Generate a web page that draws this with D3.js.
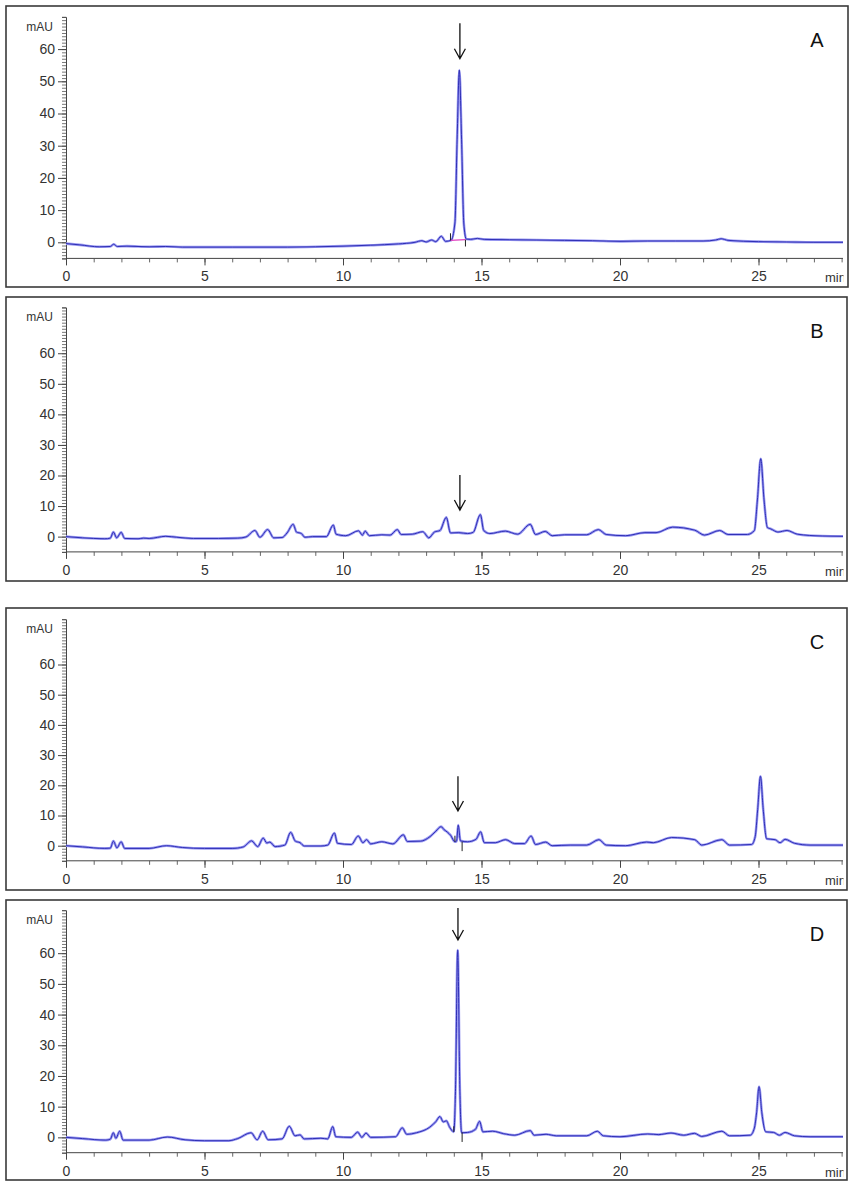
<!DOCTYPE html>
<html>
<head>
<meta charset="utf-8">
<script src="https://cdn.jsdelivr.net/npm/d3@7"></script>
<style>
  html, body { margin: 0; padding: 0; background: #fff; }
  svg { display: block; }
  text { font-family: "Liberation Sans", Arial, sans-serif; }
</style>
</head>
<body>
<svg id="chart" width="851" height="1187"></svg>
<script>
// ---------------- data ----------------
const panelLabels = ["A", "B", "C", "D"];
const xTickLabels = [0, 5, 10, 15, 20, 25];
const yTickLabels = [0, 10, 20, 30, 40, 50, 60];
const xUnit = "min";
const yUnit = "mAU";
const xMax = 28.05;
const yMin = -5;
const yMaxes = [70, 75, 75, 74];

// retention time (min), absorbance (mAU)
const seriesA = [[0,-0.4],[0.5,-0.8],[1.2,-1.4],[1.6,-1.3],[1.72,-0.6],[1.85,-1.3],[2.2,-1.2],[3,-1.4],[3.6,-1.3],[4.2,-1.5],[6,-1.5],[8,-1.5],[9,-1.4],[10,-1.2],[11,-0.9],[12,-0.5],[12.6,0],[12.85,0.5],[13.0,0.1],[13.2,0.7],[13.35,0.2],[13.55,1.9],[13.7,0.3],[13.9,0.6],[14.04,6],[14.12,32],[14.2,53.5],[14.28,32],[14.36,6],[14.45,1.0],[14.6,0.9],[14.85,1.2],[15.1,0.9],[16,0.8],[17,0.7],[18,0.6],[19,0.5],[20,0.3],[21,0.4],[22,0.4],[23,0.4],[23.45,0.7],[23.65,1.1],[23.9,0.6],[25,0.2],[26,0.1],[27,0],[28.05,0]];

const seriesB = [[0,0],[0.6,-0.4],[1.4,-0.7],[1.6,-0.5],[1.71,1.5],[1.83,-0.4],[1.99,1.4],[2.12,-0.6],[2.6,-0.7],[2.8,-0.5],[3.0,-0.6],[3.6,0.1],[4.0,-0.2],[4.6,-0.6],[5.5,-0.6],[6.2,-0.5],[6.5,-0.1],[6.82,2.0],[7.0,-0.2],[7.28,2.3],[7.5,-0.4],[7.8,-0.3],[7.98,1.2],[8.2,4.0],[8.32,1.5],[8.5,1.0],[8.62,-0.2],[8.9,0],[9.4,0],[9.65,3.8],[9.75,0.8],[10.1,0.3],[10.56,1.9],[10.7,0.5],[10.8,1.8],[10.95,0.3],[11.4,0.6],[11.7,0.5],[11.96,2.3],[12.1,0.7],[12.5,0.8],[12.88,1.6],[13.1,-0.4],[13.3,1.5],[13.5,2.0],[13.73,6.3],[13.88,1.2],[14.18,1.3],[14.5,1.0],[14.7,1.4],[14.96,7.2],[15.08,2.0],[15.3,1.0],[15.86,1.8],[16.3,0.8],[16.76,4.0],[16.95,0.7],[17.3,1.7],[17.55,0.3],[18.0,0.6],[18.8,0.6],[19.22,2.3],[19.5,0.7],[20.2,0.3],[20.9,1.3],[21.3,1.3],[21.9,3.1],[22.7,2.1],[23.05,0.5],[23.6,2.0],[23.9,0.7],[24.6,0.7],[24.85,2],[24.96,12],[25.08,25.5],[25.2,12],[25.32,3],[25.45,2.5],[25.7,1.5],[26.03,2.0],[26.4,0.8],[27.3,0.2],[28.05,0.1]];

const seriesC = [[0,0],[0.6,-0.4],[1.4,-0.9],[1.6,-0.8],[1.71,1.5],[1.84,-0.7],[1.99,1.3],[2.12,-0.9],[3.0,-0.9],[3.63,0],[4.2,-0.6],[5,-0.9],[6.0,-0.9],[6.4,-0.4],[6.7,1.6],[6.92,-0.3],[7.12,2.5],[7.25,0.9],[7.36,1.2],[7.55,-0.3],[7.9,0.2],[8.11,4.4],[8.28,1.5],[8.45,1.0],[8.6,-0.1],[9.2,-0.1],[9.45,0.2],[9.69,4.2],[9.8,0.8],[10.3,0.4],[10.55,3.2],[10.72,1.0],[10.85,2.0],[11.0,0.6],[11.4,1.3],[11.8,0.6],[12.18,3.6],[12.32,1.4],[12.8,1.5],[13.14,3],[13.35,4.8],[13.54,6.3],[13.65,5.3],[13.78,4.4],[13.88,3.5],[14.04,1.3],[14.1,1.5],[14.16,6.8],[14.24,1.6],[14.5,1.3],[14.8,2.1],[14.97,4.6],[15.1,1.0],[15.5,1.0],[15.87,2.0],[16.2,0.7],[16.55,0.7],[16.79,3.2],[16.95,0.4],[17.32,1.2],[17.55,0],[18.2,0.2],[18.8,0.2],[19.24,2.0],[19.5,0.2],[20.2,0],[20.96,1.2],[21.2,1.0],[21.86,2.7],[22.7,2.0],[22.95,0.2],[23.68,2.0],[23.95,0.2],[24.75,0.4],[24.88,3],[24.97,12],[25.07,23],[25.17,12],[25.29,2.3],[25.6,2.0],[25.78,1.0],[25.96,2.1],[26.3,0.8],[26.86,0.2],[28.05,0.2]];

const seriesD = [[0,0],[0.6,-0.4],[1.44,-0.9],[1.6,-0.6],[1.71,1.5],[1.8,-0.3],[1.94,2.0],[2.06,-0.9],[3.0,-0.9],[3.66,0.1],[4.3,-0.8],[5.0,-1.1],[5.88,-1.1],[6.2,-0.4],[6.68,1.5],[6.9,-0.8],[7.1,2.0],[7.3,-0.8],[7.8,-0.5],[8.06,3.6],[8.27,0.5],[8.45,0.8],[8.6,-0.5],[9.2,-0.3],[9.45,-0.5],[9.63,3.5],[9.74,0.2],[10.3,0],[10.53,1.7],[10.68,0],[10.83,1.4],[11.0,0],[11.9,0.2],[12.14,3.1],[12.3,1.0],[12.65,1.5],[13.13,3.3],[13.35,5.1],[13.5,6.8],[13.62,5.0],[13.73,5.4],[13.85,3.3],[14.0,1.8],[14.06,15],[14.14,61],[14.22,15],[14.28,1.5],[14.5,1.6],[14.78,2.6],[14.93,5.2],[15.05,1.8],[15.4,2.0],[15.8,1.2],[16.2,0.7],[16.76,2.2],[16.9,0.7],[17.33,1.0],[17.7,0.5],[18.8,0.5],[19.18,2.0],[19.4,0.5],[20.0,0.2],[21.0,1.1],[21.4,0.9],[21.84,1.4],[22.3,0.7],[22.69,1.3],[22.95,0.3],[23.68,2.0],[23.95,0.5],[24.7,0.7],[24.85,3],[24.93,8],[25.02,16.5],[25.12,8],[25.26,1.8],[25.55,1.6],[25.75,0.7],[25.96,1.6],[26.3,0.5],[26.86,0.2],[28.05,0.2]];

const allSeries = [seriesA, seriesB, seriesC, seriesD];

// arrows: [time, top value, tip value]
const arrows = [[14.22, 68, 57], [14.22, 20.2, 8.7], [14.15, 23, 11.5], [14.15, 74.7, 64.3]];

// integration marks: [time, from value, to value]
const marksA = [[13.88, 0.6, 2.8], [14.42, 0.8, -1.3]];
const marksB = [];
const marksC = [[14.04, 1.3, 3.3], [14.3, 1.3, -1.8]];
const marksD = [[14.0, 1.8, 3.6], [14.3, 1.6, -1.5]];
const allMarks = [marksA, marksB, marksC, marksD];
// integration baseline (pink) in A
const baselineA = [[13.88, 0.6], [14.42, 0.8]];

// ---------------- layout ----------------
const frames = [
  {x0: 6, y0: 6,   x1: 848, y1: 287, yb: 258.4, yt: 16.9},
  {x0: 6, y0: 297, x1: 847, y1: 581, yb: 551.9, yt: 307.4},
  {x0: 6, y0: 608, x1: 847, y1: 890, yb: 860.8, yt: 619.2},
  {x0: 6, y0: 900, x1: 847, y1: 1180, yb: 1152.7, yt: 910.2}
];
const xLeft = 66, xRight = 843;

const svg = d3.select("#chart");
svg.append("rect").attr("width", 851).attr("height", 1187).attr("fill", "#fff");

const line = (x, y) => d3.line().x(d => x(d[0])).y(d => y(d[1])).curve(d3.curveMonotoneX);

frames.forEach((f, i) => {
  const g = svg.append("g");
  const x = d3.scaleLinear().domain([0, xMax]).range([xLeft, xRight]);
  const y = d3.scaleLinear().domain([yMin, yMaxes[i]]).range([f.yb, f.yt]);

  // frame
  g.append("rect")
    .attr("x", f.x0).attr("y", f.y0)
    .attr("width", f.x1 - f.x0).attr("height", f.y1 - f.y0)
    .attr("fill", "none").attr("stroke", "#3a3a3a").attr("stroke-width", 1.6);

  // y axis: minor ticks
  const minorY = d3.range(yMin, yMaxes[i] + 0.001, 1);
  const yMinor = d3.axisLeft(y).tickValues(minorY).tickSize(4).tickFormat("");
  const gyMinor = g.append("g").attr("transform", `translate(${xLeft},0)`).call(yMinor);
  gyMinor.select(".domain").attr("stroke", "#444");
  gyMinor.selectAll(".tick line").attr("stroke", "#555").attr("stroke-width", 0.8);

  const yMajor = d3.axisLeft(y).tickValues(yTickLabels).tickSize(8).tickPadding(3);
  const gy = g.append("g").attr("transform", `translate(${xLeft},0)`).call(yMajor);
  gy.select(".domain").remove();
  gy.selectAll(".tick line").attr("stroke", "#444").attr("stroke-width", 1);
  gy.selectAll(".tick text").attr("font-size", 14).attr("fill", "#333")
    .attr("font-family", "'Liberation Sans', Arial, sans-serif");

  g.append("text").attr("x", 53).attr("y", f.yt + 14)
    .attr("text-anchor", "end").attr("font-size", 12).attr("fill", "#333").text(yUnit);

  // x axis
  const xMinorVals = d3.range(0, 28 + 0.001, 1);
  const xMinor = d3.axisBottom(x).tickValues(xMinorVals).tickSize(4).tickFormat("");
  const gxMinor = g.append("g").attr("transform", `translate(0,${f.yb})`).call(xMinor);
  gxMinor.select(".domain").attr("stroke", "#444").attr("d", `M${xLeft},0H${xRight}`);
  gxMinor.selectAll(".tick line").attr("stroke", "#555").attr("stroke-width", 0.9);

  const xMajor = d3.axisBottom(x).tickValues(xTickLabels).tickSize(7).tickPadding(6);
  const gx = g.append("g").attr("transform", `translate(0,${f.yb})`).call(xMajor);
  gx.select(".domain").remove();
  gx.selectAll(".tick line").attr("stroke", "#444");
  gx.selectAll(".tick text").attr("font-size", 14).attr("fill", "#333")
    .attr("font-family", "'Liberation Sans', Arial, sans-serif");

  // unit label (clipped as in original)
  const clipId = "clipU" + i;
  svg.append("clipPath").attr("id", clipId).append("rect")
    .attr("x", 820).attr("y", f.yb).attr("width", 23.5).attr("height", 30);
  g.append("text").attr("x", 825).attr("y", f.yb + 24)
    .attr("font-size", 13).attr("fill", "#333")
    .attr("clip-path", `url(#${clipId})`).text(xUnit);

  // trace: halo + core
  g.append("path").datum(allSeries[i])
    .attr("d", line(x, y)).attr("fill", "none")
    .attr("stroke", "#9a9af2").attr("stroke-width", 2.6).attr("stroke-linejoin", "round");
  g.append("path").datum(allSeries[i])
    .attr("d", line(x, y)).attr("fill", "none")
    .attr("stroke", "#2f2fb5").attr("stroke-width", 1.0).attr("stroke-linejoin", "round");

  if (i === 0) {
    g.append("path").datum(baselineA)
      .attr("d", d3.line().x(d => x(d[0])).y(d => y(d[1])))
      .attr("stroke", "#e040c0").attr("stroke-width", 1.2).attr("fill", "none");
  }
  allMarks[i].forEach(m => {
    g.append("line").attr("x1", x(m[0])).attr("x2", x(m[0]))
      .attr("y1", y(m[1])).attr("y2", y(m[2]))
      .attr("stroke", "#222").attr("stroke-width", 1);
  });

  // arrow
  const a = arrows[i];
  const ax = x(a[0]), ay0 = y(a[1]), ay1 = y(a[2]);
  g.append("path")
    .attr("d", `M${ax},${ay0}V${ay1}M${ax - 5.5},${ay1 - 10}L${ax},${ay1}L${ax + 5.5},${ay1 - 10}`)
    .attr("fill", "none").attr("stroke", "#111").attr("stroke-width", 1.3);

  // panel letter
  g.append("text").attr("x", 817).attr("y", f.y0 + 41)
    .attr("text-anchor", "middle").attr("font-size", 20).attr("fill", "#111")
    .text(panelLabels[i]);
});
</script>
</body>
</html>
